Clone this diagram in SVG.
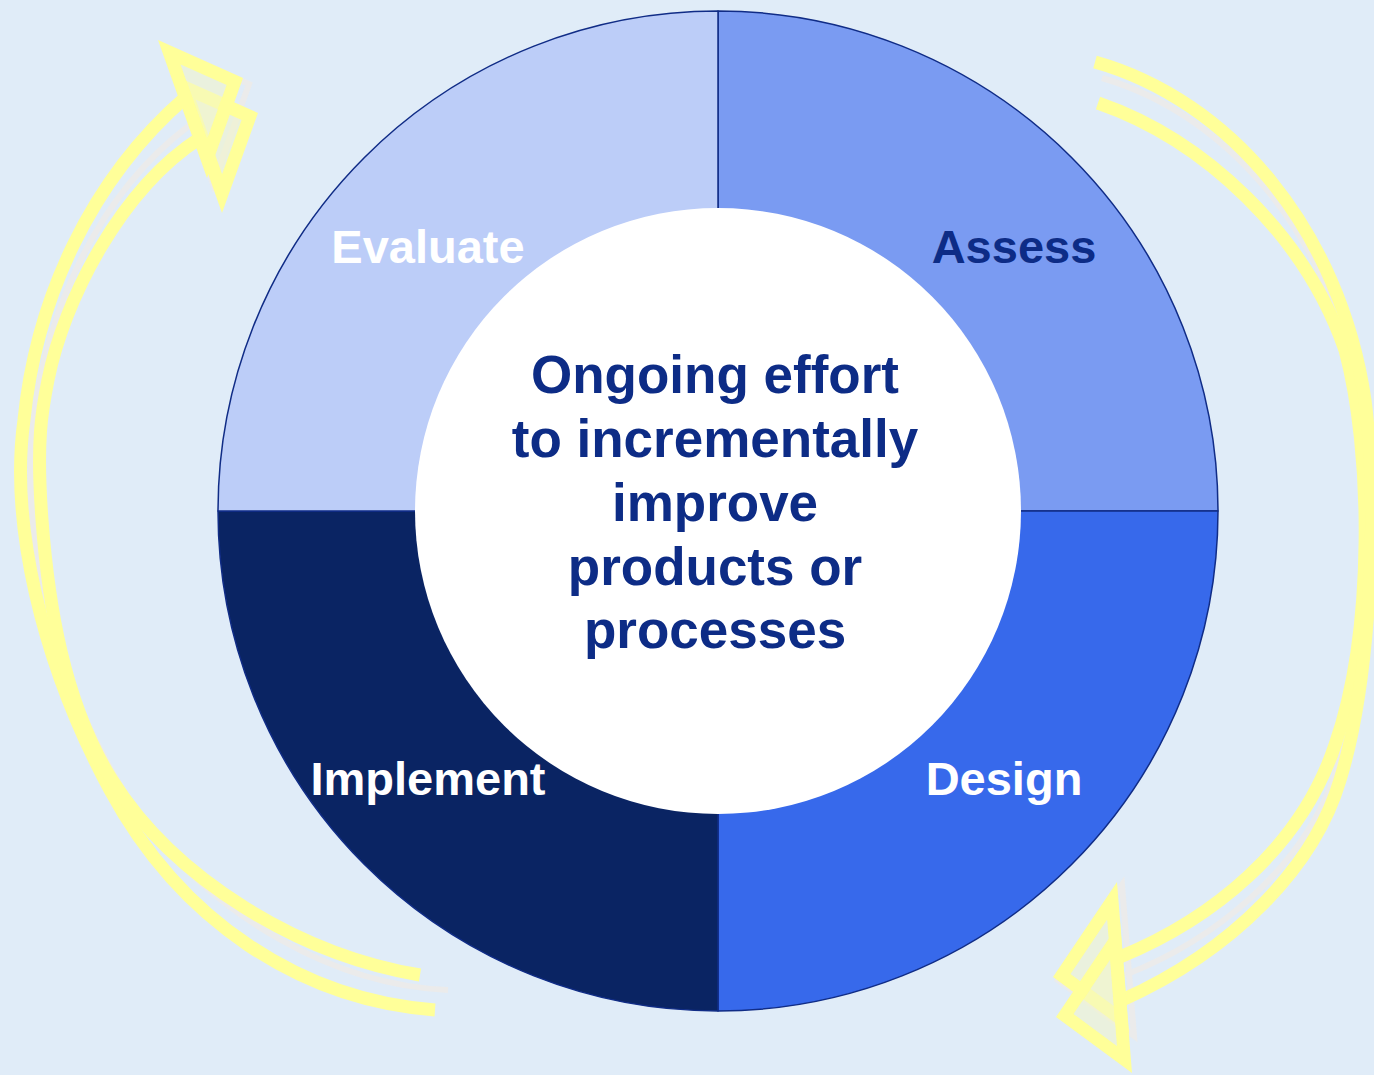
<svg xmlns="http://www.w3.org/2000/svg" width="1374" height="1075" viewBox="0 0 1374 1075">
  <style>
    .bg { fill: #E0ECF8; }
    .quad { stroke: #102C86; stroke-width: 1.5; stroke-linejoin: round; }
    .label { font-family: "Liberation Sans", Arial, sans-serif; font-weight: bold; font-size: 47px; text-anchor: middle; }
    .core { font-family: "Liberation Sans", Arial, sans-serif; font-weight: bold; font-size: 53px; text-anchor: middle; fill: #0D2C86; }
    .shaft { fill: none; stroke: #FFFF99; stroke-width: 13; stroke-linecap: butt; }
    .shade { fill: none; stroke: #EBEBEB; stroke-width: 6; stroke-linecap: butt; }
    .head { fill: #FFFF99; fill-rule: evenodd; }
    .hollow { fill: #F3F5C8; fill-opacity: 0.55; }
  </style>

  <rect class="bg" x="0" y="0" width="1374" height="1075"/>

  <!-- cycle arrows around the wheel -->
  <g id="connectors">
    <!-- left arrow: rises from the bottom towards Evaluate -->
    <g id="arrow-left">
      <path class="shade" d="M448,990 C330,985 220,915 150,830 C70,720 25,580 31,450 C38,330 90,200 190,125"/>
      <path class="shade" d="M164,46 L249,84 L213,184 Z"/>
      <path class="shaft" d="M435,1010 C300,1000 180,920 110,790 C40,660 10,520 24,420 C36,300 90,180 186,97"/>
      <path class="shaft" d="M420,975 C300,955 175,880 112,780 C63,702 48,600 42,520 C36,440 42,410 48,380 C64,300 120,190 200,138"/>
      <polygon class="hollow" points="195.6,99.5 241.5,120 222.1,174"/>
      <path class="head" d="M173,75 L258,113 L222,213 Z M195.6,99.5 L222.1,174 L241.5,120 Z"/>
      <polygon class="hollow" points="180.6,64.5 226.5,85 207.1,139"/>
      <path class="head" d="M158,40 L243,78 L207,178 Z M180.6,64.5 L207.1,139 L226.5,85 Z"/>
    </g>
    <!-- right arrow: runs from the top down towards Design -->
    <g id="arrow-right">
      <path class="shade" d="M1102,78 C1230,115 1335,240 1358,400 C1372,520 1370,670 1333,780 C1300,870 1215,940 1125,975"/>
      <path class="shade" d="M1122,885 L1058,980 L1134,1036 Z"/>
      <path class="shaft" d="M1098,103 C1205,140 1305,235 1345,350 C1372,450 1375,630 1335,745 C1300,850 1210,920 1120,957"/>
      <path class="shaft" d="M1095,62 C1230,100 1340,230 1365,400 C1380,520 1368,690 1340,780 C1315,865 1235,950 1120,1001"/>
      <polygon class="hollow" points="1107.1,919.8 1070.6,973.9 1113.9,1005.9"/>
      <path class="head" d="M1117,882 L1053,977 L1129,1033 Z M1107.1,919.8 L1113.9,1005.9 L1070.6,973.9 Z"/>
      <polygon class="hollow" points="1110.1,959.8 1073.6,1013.9 1116.9,1045.9"/>
      <path class="head" d="M1120,922 L1056,1017 L1132,1073 Z M1110.1,959.8 L1116.9,1045.9 L1073.6,1013.9 Z"/>
    </g>
  </g>

  <!-- four phases of the wheel -->
  <g id="assess">
    <path class="quad" fill="#7A9BF2" d="M718,511 L718,11 A500,500 0 0 1 1218,511 Z"/>
    <text class="label" x="1014" y="263" fill="#0D2C86">Assess</text>
  </g>
  <g id="design">
    <path class="quad" fill="#3769EB" d="M718,511 L1218,511 A500,500 0 0 1 718,1011 Z"/>
    <text class="label" x="1004" y="795" fill="#FFFFFF">Design</text>
  </g>
  <g id="implement">
    <path class="quad" fill="#0A2463" d="M718,511 L718,1011 A500,500 0 0 1 218,511 Z"/>
    <text class="label" x="428" y="795" fill="#FFFFFF">Implement</text>
  </g>
  <g id="evaluate">
    <path class="quad" fill="#BCCDF8" d="M718,511 L218,511 A500,500 0 0 1 718,11 Z"/>
    <text class="label" x="428" y="263" fill="#FFFFFF">Evaluate</text>
  </g>

  <!-- hub -->
  <g id="center">
    <circle cx="718" cy="511" r="303" fill="#FFFFFF"/>
    <text class="core" x="715" y="393">Ongoing effort</text>
    <text class="core" x="715" y="457">to incrementally</text>
    <text class="core" x="715" y="521">improve</text>
    <text class="core" x="715" y="585">products or</text>
    <text class="core" x="715" y="648">processes</text>
  </g>
</svg>
